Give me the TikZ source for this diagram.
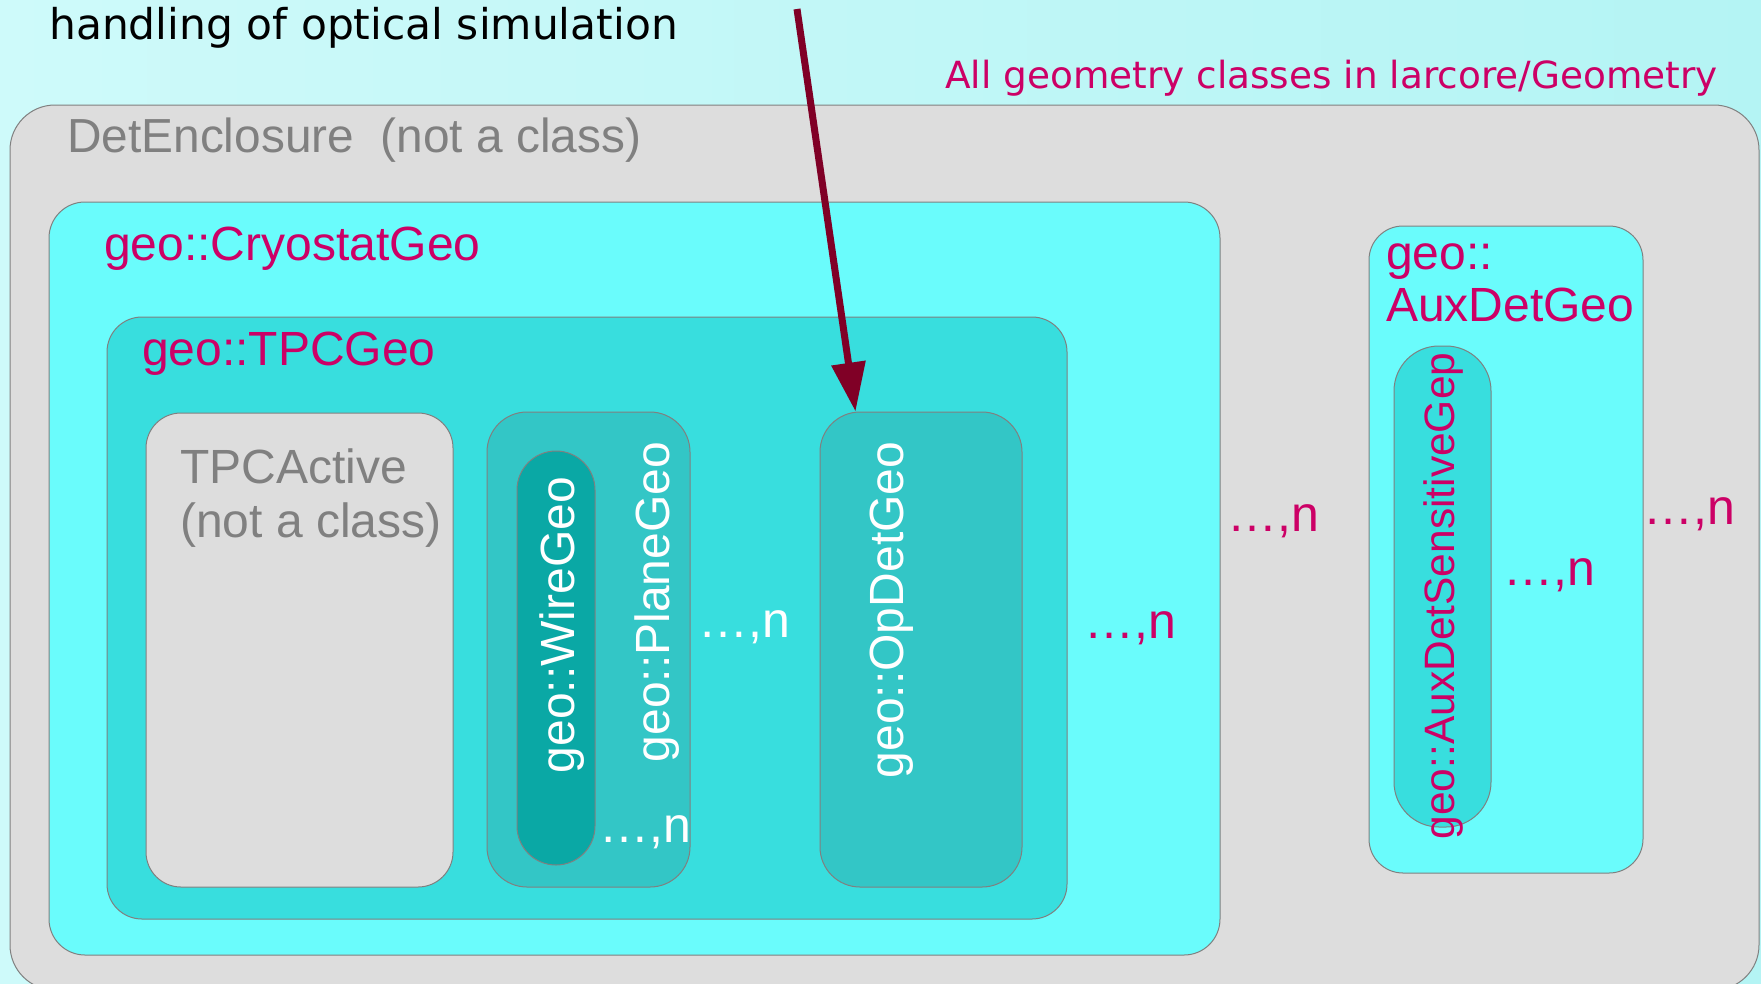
\documentclass[tikz,border=0pt]{standalone}
\usepackage{fontspec}
\setmainfont{Liberation Sans}
\newfontfamily\dejavu{DejaVu Sans}
\usetikzlibrary{arrows.meta}
\definecolor{bgL}{RGB}{206,250,250}
\definecolor{bgR}{RGB}{180,244,244}
\definecolor{encl}{RGB}{221,221,221}
\definecolor{edge}{RGB}{128,128,128}
\definecolor{cyanA}{RGB}{106,252,252}
\definecolor{cyanB}{RGB}{56,222,222}
\definecolor{cyanC}{RGB}{51,198,198}
\definecolor{cyanD}{RGB}{10,168,165}
\definecolor{mag}{RGB}{204,0,102}
\definecolor{arrowred}{RGB}{128,0,38}
\definecolor{graytext}{RGB}{128,128,128}
\tikzset{
  box/.style={draw=edge, line width=1pt, inner sep=0pt, rectangle},
  lbl/.style={inner sep=0pt, font=\fontsize{48}{54}\selectfont},
  mult/.style={inner sep=0pt, anchor=base west, font=\fontsize{50}{54}\selectfont},
  vlbl/.style={inner sep=0pt, rotate=90, anchor=base, font=\fontsize{48}{54}\selectfont},
  optarrow/.style={draw=arrowred, line width=7pt, -{Triangle[length=49pt,width=33pt]}}
}
\begin{document}
\begin{tikzpicture}[x=1pt,y=-1pt]
\useasboundingbox (0,0) rectangle (1761,983);
\clip (0,0) rectangle (1761,983);
\shade[left color=bgL, right color=bgR] (0,0) rectangle (1761,983);
% boxes
\node[box, fill=encl, rounded corners=45pt, minimum width=1749pt, minimum height=885pt] (encl) at (884.5,547.5) {};
\node[box, fill=cyanA, rounded corners=36pt, minimum width=1171pt, minimum height=753pt] (cryo) at (634.5,578.5) {};
\node[box, fill=cyanB, rounded corners=35pt, minimum width=960pt, minimum height=602pt] (tpc) at (587,618) {};
\node[box, fill=encl, rounded corners=35pt, minimum width=307pt, minimum height=474pt] (active) at (299.5,650) {};
\node[box, fill=cyanC, rounded corners=40pt, minimum width=203pt, minimum height=475pt] (plane) at (588.5,649.5) {};
\node[box, fill=cyanD, rounded corners=39pt, minimum width=78pt, minimum height=414pt] (wire) at (556,658) {};
\node[box, fill=cyanC, rounded corners=40pt, minimum width=202pt, minimum height=475pt] (opdet) at (921,649.5) {};
\node[box, fill=cyanA, rounded corners=34pt, minimum width=274pt, minimum height=647pt] (aux) at (1506,549.5) {};
\node[box, fill=cyanB, rounded corners=45pt, minimum width=97pt, minimum height=481pt] (auxsens) at (1442.5,586.5) {};
% top texts
\node[inner sep=0pt, anchor=base west, font=\dejavu\fontsize{42.4}{50}\selectfont] (handling) at (49,39) {handling of optical simulation};
\node[inner sep=0pt, anchor=base west, text=mag, font=\dejavu\fontsize{37.4}{44}\selectfont] (allgeo) at (945,88) {All geometry classes in larcore/Geometry};
% labels
\node[lbl, anchor=base west, text=graytext, font=\fontsize{47.8}{54}\selectfont] (enclT) at (67,152) {DetEnclosure~ (not a class)};
\node[lbl, anchor=base west, text=mag] (cryoT) at (104,260) {geo::CryostatGeo};
\node[lbl, anchor=base west, text=mag] (tpcT) at (142,365) {geo::TPCGeo};
\node[lbl, anchor=base west, text=graytext] (activeT) at (180,483) {\begin{tabular}[t]{@{}l@{}}TPCActive\\(not a class)\end{tabular}};
\node[vlbl, text=white] (wireT) at (574,625) {geo::WireGeo};
\node[vlbl, text=white] (planeT) at (669,602) {geo::PlaneGeo};
\node[mult, text=white] (wireN) at (599,842) {…,n};
\node[mult, text=white] (planeN) at (698,637) {…,n};
\node[vlbl, text=white] (opdetT) at (903,610) {geo::OpDetGeo};
\node[mult, text=mag] (tpcN) at (1084,638) {…,n};
\node[mult, text=mag] (cryoN) at (1227,531) {…,n};
\node[lbl, anchor=base west, text=mag, font=\fontsize{48}{52}\selectfont] (auxT) at (1386,269) {\begin{tabular}[t]{@{}l@{}}geo::\\AuxDetGeo\end{tabular}};
\node[vlbl, text=mag, font=\fontsize{42.5}{50}\selectfont] (auxsensT) at (1454,596) {geo::AuxDetSensitiveGep};
\node[mult, text=mag] (auxsensN) at (1503,585) {…,n};
\node[mult, text=mag] (auxN) at (1643,524) {…,n};
% arrow
\coordinate (src) at (797,9);
\draw[optarrow] (src) -- ([xshift=36pt]opdet.north west);
\end{tikzpicture}
\end{document}
